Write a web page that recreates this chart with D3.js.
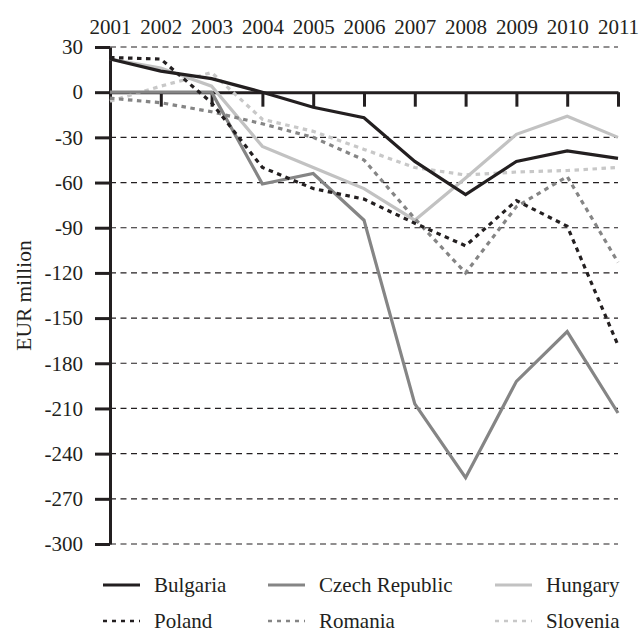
<!DOCTYPE html>
<html>
<head>
<meta charset="UTF-8">
<script src="https://d3js.org/d3.v7.min.js"></script>
</head>
<body style="margin:0">
<svg></svg>
<script>

    // values, EUR million
    const years = [2001, 2002, 2003, 2004, 2005, 2006, 2007, 2008, 2009, 2010, 2011];
    const yTicks = [30, 0, -30, -60, -90, -120, -150, -180, -210, -240, -270, -300];

    const bulgaria = [22, 14, 9, 0, -10, -17, -46, -68, -46, -39, -44];
    const czech = [0, 0, 0, -61, -54, -85, -207, -256, -192, -159, -213];
    const hungary = [22, 16, 4, -36, -50, -64, -85, -57, -28, -16, -30];
    const poland = [23, 22, -7, -50, -64, -71, -87, -102, -72, -89, -168];
    const romania = [-4, -7, -13, -21, -30, -45, -84, -120, -76, -56, -113];
    const slovenia = [-6, 4, 13, -18, -26, -38, -50, -55, -53, -52, -50];

    const countries = ["Bulgaria", "Czech Republic", "Hungary", "Poland", "Romania", "Slovenia"];

    width = 639;
    height = 632;
    const ink = "#231f20";
    const fontFam = '"Liberation Serif", monospace';
    const fontSize = 21;

    const series = [
        { name: countries[0], values: bulgaria, color: ink, dash: null },
        { name: countries[1], values: czech, color: "#858585", dash: null },
        { name: countries[2], values: hungary, color: "#c2c2c2", dash: null },
        { name: countries[3], values: poland, color: ink, dash: "4.5,4.5" },
        { name: countries[4], values: romania, color: "#858585", dash: "4.5,4.5" },
        { name: countries[5], values: slovenia, color: "#c8c8c8", dash: "4.5,4.5" }
    ];

    const x = d3.scaleLinear().domain([2001, 2011]).range([110, 618]);
    const y = d3.scaleLinear().domain([-300, 30]).range([544, 47]);

    const svg = d3.select("svg")
        .attr("width", width)
        .attr("height", height);

    // dashed grid lines (not on the zero line)
    svg.append("g")
        .selectAll("line")
        .data(yTicks.filter(d => d !== 0))
        .join("line")
        .attr("x1", x(2001))
        .attr("x2", x(2011))
        .attr("y1", d => y(d))
        .attr("y2", d => y(d))
        .attr("stroke", ink)
        .attr("stroke-width", 1.2)
        .attr("stroke-dasharray", "6,4.5");

    // year labels along the top
    const yearAxis = svg.append("g")
        .attr("transform", "translate(0,27)")
        .call(d3.axisTop(x).tickValues(years).tickFormat(d => String(d)).tickSize(0).tickPadding(0));
    yearAxis.select(".domain").remove();
    yearAxis.attr("font-family", null).attr("font-size", null);
    yearAxis.selectAll("text")
        .style("font-family", fontFam)
        .attr("font-size", fontSize)
        .attr("fill", ink)
        .attr("dy", "0.32em");

    // zero line with ticks hanging down
    const zeroAxis = svg.append("g")
        .attr("transform", `translate(0,${y(0)})`)
        .call(d3.axisBottom(x).tickValues(years).tickSize(14.5).tickSizeOuter(0).tickFormat(""));
    zeroAxis.select(".domain").attr("stroke", ink).attr("stroke-width", 3);
    zeroAxis.selectAll(".tick line").attr("stroke", ink).attr("stroke-width", 3);

    // left axis, plain hyphen for the minus sign like the original
    const leftAxis = svg.append("g")
        .attr("transform", `translate(${x(2001)},0)`)
        .call(d3.axisLeft(y).tickValues(yTicks).tickFormat(d => String(d))
            .tickSize(15).tickSizeOuter(0).tickPadding(12));
    leftAxis.attr("font-family", null).attr("font-size", null);
    leftAxis.select(".domain").attr("stroke", ink).attr("stroke-width", 3);
    leftAxis.selectAll(".tick line").attr("stroke", ink).attr("stroke-width", 3);
    leftAxis.selectAll("text")
        .style("font-family", fontFam)
        .attr("font-size", fontSize)
        .attr("fill", ink);

    svg.append("text")
        .attr("transform", `translate(31,${(y(30) + y(-300)) / 2}) rotate(-90)`)
        .attr("text-anchor", "middle")
        .style("font-family", fontFam)
        .attr("font-size", 21.5)
        .attr("fill", ink)
        .text("EUR million");

    const line = d3.line()
        .x((d, i) => x(years[i]))
        .y(d => y(d));

    // draw light ones first so dark lines sit on top
    const order = ["Slovenia", "Hungary", "Romania", "Czech Republic", "Poland", "Bulgaria"];
    svg.append("g")
        .selectAll("path")
        .data(order.map(n => series.find(s => s.name === n)))
        .join("path")
        .attr("d", d => line(d.values))
        .attr("fill", "none")
        .attr("stroke", d => d.color)
        .attr("stroke-width", 3.2)
        .attr("stroke-dasharray", d => d.dash);

    // legend, 3 columns x 2 rows
    const colX = [103, 268, 495];
    const rowY = [585, 621];
    const legend = svg.append("g")
        .selectAll("g")
        .data(series)
        .join("g")
        .attr("transform", (d, i) => `translate(${colX[i % 3]},${rowY[Math.floor(i / 3)]})`);

    legend.append("line")
        .attr("x1", 0)
        .attr("x2", 37)
        .attr("stroke", d => d.color)
        .attr("stroke-width", d => d.dash ? 2.4 : 2.8)
        .attr("stroke-dasharray", d => d.dash ? "4,5" : null);

    legend.append("text")
        .attr("x", 51)
        .attr("dy", "0.32em")
        .style("font-family", fontFam)
        .attr("font-size", fontSize)
        .attr("fill", ink)
        .text(d => d.name);

</script>
</body>
</html>
